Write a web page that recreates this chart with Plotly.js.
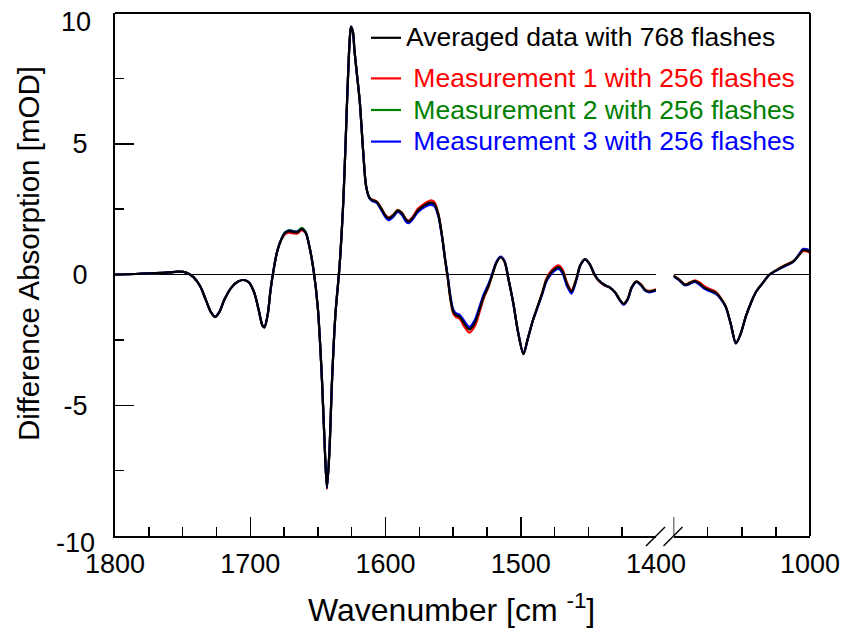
<!DOCTYPE html>
<html>
<head>
<meta charset="utf-8">
<script src="https://cdn.plot.ly/plotly-3.0.1.min.js"></script>
<style>html,body{margin:0;padding:0;background:#fff;}#chart{width:845px;height:630px;}</style>
</head>
<body>
<div id="chart"></div>
<script>
// ---------- data ----------
const seriesNames = ['Averaged data with 768 flashes','Measurement 1 with 256 flashes','Measurement 2 with 256 flashes','Measurement 3 with 256 flashes'];
const seriesColors = ['#000000','#ff0000','#008000','#0000ff'];

const xLeft = [1800,1790,1780,1770,1760,1753,1747,1742,1737,1733,
1729,1726,1723,1719,1714,1709,1705,1701,1697,1694,
1691,1689.5,1687,1685,1683,1680,1677,1674,1671,1668,
1665,1662,1659,1656,1653,1650,1647,1645,1643.3,1641.5,
1639.5,1637,1634,1631,1628.5,1626.5,1625.5,1624,1623,1621,
1619,1616.5,1614.4,1612,1610,1606.5,1603,1600,1597.5,1594.5,
1591,1588,1585,1583,1580,1576,1571,1567,1564,1561,
1558,1556,1554,1552,1550,1548,1545,1542,1538,1534,
1530,1527.5,1524,1521.5,1518,1515,1512,1509,1505.5,1502,
1498,1495,1491,1488,1484,1481,1477,1472,1469,1466,
1462.5,1459,1456,1452.5,1449,1446,1442.7,1438,1434,1430,
1427,1424,1421,1418,1414.5,1411,1408,1405,1402,1400];

const avgLeft = [0.00,0.01,0.03,0.05,0.08,0.11,0.07,-0.10,-0.45,-0.95,
-1.45,-1.62,-1.45,-0.95,-0.50,-0.27,-0.21,-0.30,-0.70,-1.30,
-1.95,-2.02,-1.50,-0.60,0.10,0.90,1.35,1.60,1.66,1.62,
1.62,1.74,1.60,1.00,0.10,-1.30,-4.00,-6.50,-8.15,-6.80,
-4.00,-1.50,0.30,3.00,6.50,8.95,9.48,9.25,8.60,7.60,
6.60,4.70,3.40,2.95,2.85,2.78,2.50,2.25,2.15,2.25,
2.44,2.35,2.10,2.02,2.15,2.45,2.65,2.75,2.70,2.30,
1.40,0.60,-0.10,-0.90,-1.40,-1.55,-1.62,-1.85,-2.10,-1.85,
-1.25,-0.85,-0.45,-0.08,0.45,0.66,0.50,-0.20,-1.10,-2.20,
-3.04,-2.50,-1.75,-1.30,-0.70,-0.21,0.10,0.27,0.10,-0.35,
-0.66,-0.20,0.35,0.58,0.40,0.05,-0.21,-0.40,-0.50,-0.70,
-0.95,-1.13,-0.95,-0.50,-0.27,-0.40,-0.60,-0.66,-0.62,-0.59];

const m1Left = [0.00,0.01,0.03,0.05,0.08,0.11,0.07,-0.10,-0.45,-0.95,
-1.45,-1.63,-1.45,-0.95,-0.50,-0.27,-0.21,-0.30,-0.70,-1.30,
-1.95,-2.03,-1.50,-0.60,0.10,0.90,1.33,1.55,1.60,1.57,
1.57,1.70,1.58,1.00,0.10,-1.30,-4.00,-6.50,-8.20,-6.80,
-4.00,-1.50,0.30,3.00,6.50,8.95,9.46,9.25,8.60,7.60,
6.60,4.70,3.40,2.95,2.87,2.80,2.53,2.28,2.18,2.28,
2.47,2.38,2.13,2.06,2.20,2.52,2.72,2.83,2.78,2.35,
1.42,0.58,-0.15,-0.97,-1.48,-1.62,-1.70,-1.97,-2.22,-1.98,
-1.36,-0.93,-0.50,-0.10,0.45,0.66,0.48,-0.22,-1.10,-2.20,
-3.04,-2.50,-1.75,-1.28,-0.66,-0.15,0.17,0.35,0.18,-0.28,
-0.60,-0.17,0.35,0.58,0.40,0.03,-0.23,-0.42,-0.50,-0.70,
-0.95,-1.12,-0.93,-0.48,-0.26,-0.38,-0.58,-0.63,-0.60,-0.57];

const m2Left = [0.00,0.01,0.03,0.05,0.08,0.11,0.07,-0.10,-0.45,-0.95,
-1.45,-1.62,-1.45,-0.95,-0.50,-0.27,-0.21,-0.30,-0.70,-1.30,
-1.95,-2.02,-1.50,-0.60,0.10,0.90,1.36,1.62,1.70,1.66,
1.66,1.78,1.62,1.00,0.10,-1.30,-4.00,-6.50,-8.13,-6.80,
-4.00,-1.50,0.30,3.00,6.50,8.95,9.48,9.25,8.60,7.60,
6.60,4.70,3.40,2.95,2.85,2.78,2.50,2.24,2.14,2.25,
2.45,2.36,2.10,2.02,2.14,2.44,2.64,2.74,2.69,2.30,
1.40,0.60,-0.10,-0.90,-1.40,-1.55,-1.62,-1.85,-2.08,-1.83,
-1.25,-0.85,-0.45,-0.08,0.45,0.66,0.50,-0.20,-1.10,-2.20,
-3.05,-2.50,-1.75,-1.30,-0.70,-0.21,0.10,0.27,0.10,-0.35,
-0.66,-0.20,0.35,0.58,0.40,0.05,-0.21,-0.40,-0.50,-0.70,
-0.95,-1.13,-0.95,-0.50,-0.27,-0.40,-0.60,-0.66,-0.62,-0.59];

const m3Left = [0.00,0.01,0.03,0.05,0.08,0.11,0.07,-0.10,-0.45,-0.95,
-1.45,-1.61,-1.45,-0.95,-0.50,-0.27,-0.21,-0.30,-0.70,-1.30,
-1.95,-2.00,-1.50,-0.60,0.10,0.90,1.36,1.61,1.68,1.64,
1.64,1.74,1.60,1.00,0.10,-1.30,-4.00,-6.50,-8.17,-6.80,
-4.00,-1.50,0.30,3.00,6.50,8.95,9.48,9.25,8.60,7.60,
6.60,4.70,3.40,2.93,2.82,2.74,2.45,2.19,2.08,2.19,
2.39,2.29,2.03,1.96,2.10,2.39,2.58,2.66,2.62,2.24,
1.36,0.62,-0.05,-0.83,-1.33,-1.48,-1.55,-1.76,-2.00,-1.74,
-1.15,-0.77,-0.38,-0.03,0.48,0.68,0.52,-0.18,-1.10,-2.20,
-3.03,-2.50,-1.75,-1.32,-0.74,-0.27,0.04,0.21,0.03,-0.42,
-0.73,-0.24,0.34,0.58,0.40,0.07,-0.20,-0.40,-0.50,-0.71,
-0.97,-1.15,-0.97,-0.52,-0.28,-0.42,-0.62,-0.68,-0.65,-0.62];

const xRight = [1100,1096,1091.3,1088,1084.4,1081,1077,1074,1069,1065.5,
1061.7,1058,1054.3,1051,1047,1043,1039.5,1035,1030,1025,
1020,1012.4,1008,1005,1002,1000];
const avgRight = [-0.05,-0.20,-0.40,-0.33,-0.25,-0.35,-0.52,-0.59,-0.70,-0.90,
-1.23,-1.90,-2.63,-2.30,-1.60,-1.05,-0.66,-0.35,-0.02,0.15,
0.30,0.49,0.75,0.94,0.92,0.87];
const m1Right = [-0.03,-0.18,-0.38,-0.30,-0.22,-0.30,-0.46,-0.54,-0.66,-0.88,
-1.22,-1.90,-2.63,-2.30,-1.60,-1.05,-0.66,-0.35,-0.02,0.16,
0.32,0.51,0.74,0.90,0.88,0.83];
const m2Right = [-0.05,-0.20,-0.40,-0.33,-0.26,-0.36,-0.53,-0.60,-0.71,-0.91,
-1.24,-1.91,-2.64,-2.30,-1.60,-1.05,-0.66,-0.35,-0.02,0.15,
0.30,0.49,0.76,0.95,0.93,0.88];
const m3Right = [-0.07,-0.22,-0.42,-0.36,-0.28,-0.39,-0.56,-0.63,-0.74,-0.93,
-1.25,-1.90,-2.63,-2.30,-1.60,-1.05,-0.66,-0.35,-0.02,0.14,
0.28,0.48,0.78,0.98,0.96,0.91];

const xTickValsLeft = [1800,1700,1600,1500,1400];
const xTickTextLeft = ['1800','1700','1600','1500','1400'];
const xTickValsRight = [1000];
const xTickTextRight = ['1000'];
const xBreakValRight = 1100;
const yTickVals = [-5,0,5];
const yTickText = ['-5','0','5'];
const yEndVals = [10,-10];
const yEndText = ['10','-10'];

// ---------- build ----------
const FONT = 'Liberation Sans, Arial, Helvetica, sans-serif';
const leftY = [avgLeft, m1Left, m2Left, m3Left];
const rightY = [avgRight, m1Right, m2Right, m3Right];
const traces = [];
// draw measurements first, average on top
[1,2,3,0].forEach(i => {
  const lead = i === 0 ? '' : '\u00a0';
  const nameHtml = '<span style="color:' + seriesColors[i] + ';font-size:26.5px">' + lead + seriesNames[i] + '</span>';
  traces.push({
    type:'scatter', mode:'lines', x:xLeft, y:leftY[i], xaxis:'x', yaxis:'y',
    name:nameHtml, legendgroup: i===0 ? 'avg' : 'meas', legendrank: i+1,
    line:{color:seriesColors[i], width:2.2, shape:'spline', smoothing:0.8},
    hoverinfo:'skip'
  });
  traces.push({
    type:'scatter', mode:'lines', x:xRight, y:rightY[i], xaxis:'x2', yaxis:'y',
    name:nameHtml, legendgroup: i===0 ? 'avg' : 'meas', showlegend:false,
    line:{color:seriesColors[i], width:2.2, shape:'spline', smoothing:0.8},
    hoverinfo:'skip'
  });
});

const L = 115, R = 810, T = 13, B = 536;
const W = 845, H = 630;
const pw = R - L, ph = B - T;
const d1 = (656 - L) / pw, d2 = (673.5 - L) / pw;
const px = v => v / pw, py = v => v / ph;

const tickFont = {family:FONT, size:27, color:'#000'};
const xCommon = {
  showline:true, linecolor:'#000', linewidth:2, mirror:false,
  showgrid:false, zeroline:false,
  ticks:'inside', ticklen:19, tickwidth:1.5, tickcolor:'#000',
  tickfont:tickFont, ticklabelstandoff:3,
  minor:{ticks:'inside', ticklen:9, tickwidth:1.5, tickcolor:'#000', dtick:25, tick0:0, showgrid:false},
  fixedrange:true
};

const breakShapes = [];
[d1, d2].forEach(d => {
  breakShapes.push({type:'line', xref:'paper', yref:'paper',
    x0:d - px(10), x1:d + px(9), y0:-py(10), y1:py(9), line:{color:'#000', width:1.5}});
});
// long tick at the start of the right-hand segment
breakShapes.push({type:'line', xref:'x2', yref:'paper', x0:xBreakValRight, x1:xBreakValRight,
  y0:0, y1:py(19), line:{color:'#000', width:1.5}});

const endLabels = yEndVals.map((v, k) => ({
  text:yEndText[k], xref:'paper', yref:'y', x:0, y:v, xanchor:'right', yanchor:'middle',
  xshift: k === 0 ? -22 : -18, yshift: k === 0 ? -9 : -7, showarrow:false,
  font:tickFont
}));

const layout = {
  width:W, height:H,
  margin:{l:L, r:W-R, t:T, b:H-B, pad:0},
  paper_bgcolor:'#fff', plot_bgcolor:'#fff',
  font:{family:FONT, color:'#000'},
  showlegend:true,
  legend:{
    x:(366-L)/pw, xanchor:'left', y:1-(17-T)/ph, yanchor:'top',
    bgcolor:'rgba(0,0,0,0)', borderwidth:0,
    font:{family:FONT, size:22, color:'#000'},
    traceorder:'grouped', tracegroupgap:9
  },
  xaxis: Object.assign({}, xCommon, {
    domain:[0, d1], range:[1800, 1400], anchor:'y',
    tickmode:'array', tickvals:xTickValsLeft, ticktext:xTickTextLeft
  }),
  xaxis2: Object.assign({}, xCommon, {
    domain:[d2, 1], range:[1100, 1000], anchor:'y',
    tickmode:'array', tickvals:xTickValsRight, ticktext:xTickTextRight
  }),
  yaxis:{
    domain:[0,1], range:[-10,10], anchor:'x',
    showline:true, linecolor:'#000', linewidth:2,
    showgrid:false, zeroline:true, zerolinecolor:'#000', zerolinewidth:1.2,
    ticks:'inside', ticklen:19, tickwidth:1.5, tickcolor:'#000',
    tickmode:'array', tickvals:yTickVals, ticktext:yTickText,
    tickfont:tickFont, ticklabelstandoff:20,
    minor:{ticks:'inside', ticklen:9, tickwidth:1.5, tickcolor:'#000', dtick:2.5, tick0:0, showgrid:false},
    fixedrange:true
  },
  shapes:[
    {type:'line', xref:'paper', yref:'paper', x0:0, x1:1, y0:1, y1:1, line:{color:'#000', width:2}},
    {type:'line', xref:'paper', yref:'paper', x0:1, x1:1, y0:0, y1:1, line:{color:'#000', width:2}}
  ].concat(breakShapes),
  annotations:[
    {text:'Wavenumber [cm <sup>-1</sup>]', xref:'paper', yref:'paper',
     x:(451.5-L)/pw, y:(B-608)/ph, xanchor:'center', yanchor:'middle', showarrow:false,
     font:{family:FONT, size:32, color:'#000'}},
    {text:'Difference Absorption [mOD]', xref:'paper', yref:'paper', textangle:-90,
     x:(28-L)/pw, y:(B-254)/ph, xanchor:'center', yanchor:'middle', showarrow:false,
     font:{family:FONT, size:29.5, color:'#000'}}
  ].concat(endLabels)
};

Plotly.newPlot('chart', traces, layout, {displayModeBar:false, staticPlot:true});
</script>
</body>
</html>
